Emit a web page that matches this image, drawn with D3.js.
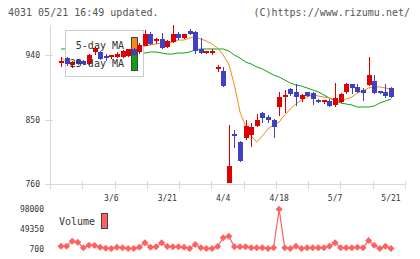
<!DOCTYPE html>
<html><head><meta charset="utf-8">
<script src="https://cdn.jsdelivr.net/npm/d3@7"></script>
<style>body{margin:0;background:#fff}svg{display:block}text{font-family:'DejaVu Sans Mono',monospace}</style>
</head><body><svg id="c" width="420" height="259"></svg>
<script>
const dates=["2/21","2/22","2/26","2/27","2/28","2/29","3/1","3/4","3/5","3/6","3/7","3/8","3/11","3/12","3/13","3/14","3/15","3/18","3/19","3/21","3/22","3/25","3/26","3/27","3/28","3/29","4/1","4/2","4/3","4/4","4/5","4/8","4/9","4/10","4/11","4/12","4/15","4/16","4/17","4/18","4/19","4/22","4/23","4/24","4/25","4/26","4/30","5/1","5/2","5/7","5/8","5/9","5/10","5/13","5/14","5/15","5/16","5/17","5/20","5/21"];
const open=[930,936,926,933,932,927,944,944,937.5,936, 937,937,938,948,944,953,969,959,962,951, 958,969,964,973,972,948,943,944,922,918, 762,828,819,824,828,841,859,854,849,868, 881,893,888,879,888,887,877,874.5,876,870, 874,888,899,895,891,898,904,888,888,894];
const high=[937,937,931,934,933,941,951,946,941,939, 944,947,949,950,957,975,972,964,971,961, 982,972,970,976,973,964,945,948,926,923, 842,835,820,849,845,858,860,856,851,888, 891,894,900,885,889,888,878,877,879,901, 887,901,900,899,894,937,912,889,899,895];
const low=[923,925,922,926,926,926,940,933,932,935, 936,936,937,938,941,952,954,955,948,950, 957,961,963,968,941,942,942,940,916,896, 761,810,791,821,812,840,845,845,824,855, 859,883,869,874,882,870,873,872,868,867, 873,885,885,887,876,897,886,885,880,880];
const close=[930,927,930,927,927,940,950,934,937,938, 941,946,948,940,954,969,955,961,950,960, 969,964,969,969,946,943,944,944,922,897, 785,826,792,841,840,849,852,849,840,881, 884,886,881,884,883,879,874,876,869,880, 886,899,894,888,887,912,887,885.5,883,881];
const ma5=[937.2,930.2,930.2,930.2,931.6,933.0,937.2,938.6,940.0,940.0, 940.0,941.4,942.8,945.6,948.4,952.6,954.0,955.3,956.7,956.7, 958.1,960.9,960.9,963.7,965.1,962.3,959.5,955.3,949.8,940.0, 927.4,898.1,860.5,840.9,827.0,818.6,827.0,836.7,842.3,846.5, 856.3,864.7,871.6,877.2,881.4,884.2,882.8,881.4,880.0,877.2, 875.8,878.6,881.4,887.0,889.8,894.0,895.4,895.4,894.0,892.6];
const ma25=[948.4,948.4,947.0,947.0,945.6,945.6,944.2,944.2,944.2,942.8, 942.8,942.8,942.8,942.8,942.8,942.8,944.2,944.2,942.8,941.4, 941.4,942.8,942.8,944.2,947.0,948.4,948.4,948.4,948.4,948.4, 945.6,940.0,935.8,930.2,927.4,923.3,920.5,916.3,912.1,909.3, 905.1,900.9,898.1,896.7,894.0,891.2,888.4,884.2,880.0,875.8, 873.0,871.6,870.2,867.4,867.4,867.4,868.8,873.0,875.8,878.6];
const volume=[6400,6400,18900,16400,2450,9000,8200,3950,1450,700, 3950,2450,700,700,3950,14900,3950,4950,14900,5700, 4950,4950,3950,700,10700,2450,700,700,5700,27400, 31400,4950,4950,4950,2450,2450,2450,700,2450,98000, 2450,700,6400,700,2450,2450,2450,2450,6400,14900, 2450,2450,2450,3950,2450,20700,9000,700,6400,700];
const priceTicks=[760,850,940];
const volTicks=[700,49350,98000];
const dateLabels=["3/6","3/21","4/4","4/18","5/7","5/21"];
const headerLeft="4031 05/21 16:49 updated.";
const headerRight="(C)https://www.rizumu.net/";

const svg=d3.select('#c');
const x=d3.scalePoint().domain(dates).range([61,391]);
const y=d3.scaleLinear().domain([760,940]).range([184,55]);
const yv=d3.scaleLinear().domain([700,98000]).range([248.5,209.3]);
const gridX=d3.scaleLinear().domain([0,11]).range([50,405]);
const axisCol="#d8d8d8", txtCol="#333";

svg.append('text').attr('x',8).attr('y',16).attr('font-size',10).attr('fill','#555').text(headerLeft);
svg.append('text').attr('x',410).attr('y',16).attr('font-size',10).attr('fill','#555').attr('text-anchor','end').text(headerRight);

// axes
const ax=svg.append('g').attr('stroke',axisCol).attr('stroke-width',1).attr('shape-rendering','crispEdges');
ax.append('line').attr('x1',50.5).attr('x2',50.5).attr('y1',25).attr('y2',184);
ax.append('line').attr('x1',50).attr('x2',406).attr('y1',184.5).attr('y2',184.5);
ax.selectAll('.yt').data(priceTicks).join('line').attr('x1',45).attr('x2',53).attr('y1',d=>Math.round(y(d))+0.5).attr('y2',d=>Math.round(y(d))+0.5);
ax.selectAll('.xt').data(d3.range(12)).join('line').attr('x1',d=>Math.round(gridX(d))+0.5).attr('x2',d=>Math.round(gridX(d))+0.5).attr('y1',181).attr('y2',189);
svg.selectAll('.yl').data(priceTicks).join('text').attr('x',40).attr('y',d=>y(d)+3).attr('text-anchor','end').attr('font-size',8).attr('fill',txtCol).text(d=>d);
svg.selectAll('.xl').data(dateLabels).join('text').attr('x',d=>x(d)).attr('y',201).attr('text-anchor','middle').attr('font-size',8).attr('fill',txtCol).text(d=>d);

// MA lines
const idx=d3.range(dates.length);
const lineOf=arr=>d3.line().x(i=>x(dates[i])).y(i=>y(arr[i]));
svg.append('path').attr('d',lineOf(ma25)(idx)).attr('fill','none').attr('stroke','#10a010').attr('stroke-width',1);
svg.append('path').attr('d',lineOf(ma5)(idx)).attr('fill','none').attr('stroke','#f08c10').attr('stroke-width',1);

// legend box
svg.append('rect').attr('x',65.5).attr('y',30.5).attr('width',78).attr('height',46).attr('fill','#fff').attr('stroke','#ccc').attr('shape-rendering','crispEdges');
svg.append('rect').attr('x',131).attr('y',37).attr('width',6).attr('height',16.5).attr('fill','#f08c10');
svg.append('rect').attr('x',131).attr('y',53.5).attr('width',6).attr('height',16.5).attr('fill','#10a010');
svg.append('rect').attr('x',131).attr('y',37).attr('width',6).attr('height',33).attr('fill','none').attr('stroke','#444').attr('shape-rendering','crispEdges');

// candles
const cg=svg.append('g').attr('shape-rendering','crispEdges');
const col=i=>close[i]>=open[i]?'#dd0000':'#4040c0';
cg.selectAll('.w').data(idx).join('line')
  .attr('x1',i=>Math.round(x(dates[i]))+0.5).attr('x2',i=>Math.round(x(dates[i]))+0.5)
  .attr('y1',i=>y(high[i])).attr('y2',i=>y(low[i])).attr('stroke',col).attr('stroke-width',1);
cg.selectAll('.b').data(idx).join('rect')
  .attr('x',i=>Math.round(x(dates[i]))-2).attr('width',5)
  .attr('y',i=>Math.min(y(open[i]),y(close[i]))-(Math.abs(y(open[i])-y(close[i]))<2?1:0))
  .attr('height',i=>Math.max(2,Math.abs(y(open[i])-y(close[i]))))
  .attr('fill',col);

// legend text
svg.append('text').attr('x',124).attr('y',49).attr('text-anchor','end').attr('font-size',10).attr('fill',txtCol).text('5-day MA');
svg.append('text').attr('x',124).attr('y',66.5).attr('text-anchor','end').attr('font-size',10).attr('fill',txtCol).text('25-day MA');

// volume
svg.selectAll('.vl').data(volTicks).join('text').attr('x',44).attr('y',d=>yv(d)+3).attr('text-anchor','end').attr('font-size',8).attr('fill',txtCol).text(d=>d);
svg.append('text').attr('x',59).attr('y',225).attr('font-size',10).attr('fill',txtCol).text('Volume');
svg.append('rect').attr('x',101.5).attr('y',213.5).attr('width',6).attr('height',15).attr('fill','#ff6060').attr('stroke','#444').attr('shape-rendering','crispEdges');
svg.append('path').attr('d',d3.line().x(i=>x(dates[i])).y(i=>yv(volume[i]))(idx)).attr('fill','none').attr('stroke','#ff6060').attr('stroke-width',1.2);
svg.selectAll('.vd').data(idx).join('path')
  .attr('d',i=>{const cx=x(dates[i]),cy=yv(volume[i]);return `M${cx},${cy-3.5}L${cx+3.5},${cy}L${cx},${cy+3.5}L${cx-3.5},${cy}Z`;})
  .attr('fill','#ff6060');
</script></body></html>
